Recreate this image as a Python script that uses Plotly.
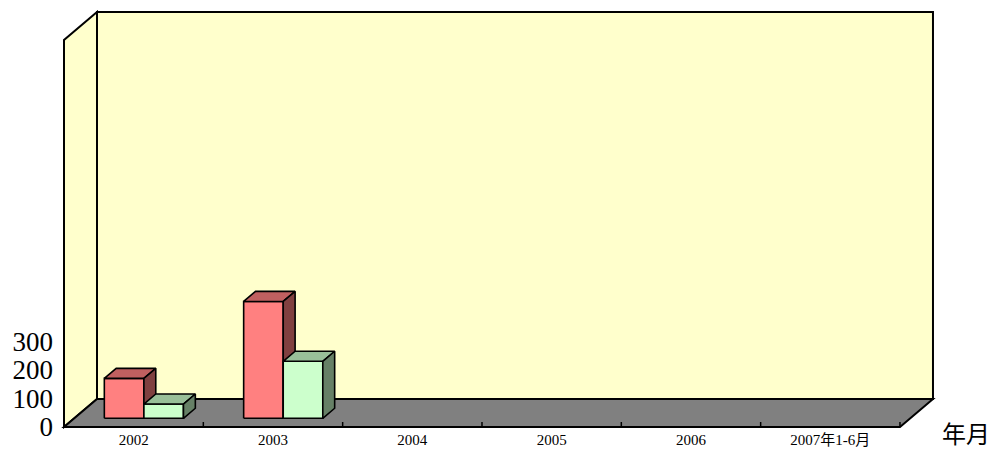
import plotly.graph_objects as go

# ---------------- data ----------------
categories = ["2002", "2003", "2004", "2005", "2006", "2007年1-6月"]
series_a = [140, 410, None, None, None, None]   # red series
series_b = [50, 200, None, None, None, None]    # green series
y_tick_values = [0, 100, 200, 300]
x_title = "年月"

# ---------------- style / geometry ----------------
OFF = 8                  # page body margin in px
FIG_W, FIG_H = 998 - OFF, 450 - OFF
CAT_PX = 139.33          # pixels per category
Y_PX = 0.285             # pixels per value unit
FRONT_LEFT_PX = 64 - OFF       # px of floor front-left corner
FRONT_BASE_PX = 427 - OFF      # px of floor front edge
L, R, T, B = 58 - OFF, 942 - OFF, 2, 429 - OFF   # plot area in px (figure coords)

DX = 33 / CAT_PX         # full depth (x units)
DY = 28 / Y_PX           # full depth (y units)
F0 = 0.31                # bar front plane depth fraction
FD = 0.36                # bar depth fraction
BAR_W = 0.284            # bar width (x units)

RED = ("#FF8080", "#C06060", "#804040")
GREEN = ("#CCFFCC", "#99BF99", "#668066")
WALL = "#FFFFCC"
FLOOR = "#808080"

def px_to_x(px):
    return (px - FRONT_LEFT_PX) / CAT_PX - 0.5

def py_to_y(py):
    return (FRONT_BASE_PX - py) / Y_PX

x_range = [px_to_x(L), px_to_x(R)]
y_range = [py_to_y(B), py_to_y(T)]
n = len(categories)
y_front_top = py_to_y(40 - OFF)

fig = go.Figure()

def poly(xs, ys, color):
    fig.add_trace(go.Scatter(
        x=xs + [xs[0]], y=ys + [ys[0]], mode="lines", fill="toself",
        fillcolor=color, line=dict(color="black", width=1.6),
        hoverinfo="skip", showlegend=False))

def box(x0, x1, base, h, cols):
    ddx, ddy = FD * DX, FD * DY
    top = base + h
    poly([x0, x1, x1, x0], [base, base, top, top], cols[0])
    poly([x0, x1, x1 + ddx, x0 + ddx], [top, top, top + ddy, top + ddy], cols[1])
    poly([x1, x1 + ddx, x1 + ddx, x1], [base, base + ddy, top + ddy, top], cols[2])

base = F0 * DY
for i in range(n):
    xc = i + F0 * DX
    if series_a[i] is not None:
        box(xc - BAR_W, xc, base, series_a[i], RED)
    if series_b[i] is not None:
        box(xc, xc + BAR_W, base, series_b[i], GREEN)

shapes = []
# back wall
shapes.append(dict(type="path", xref="x", yref="y", layer="below",
                   path=f"M {-0.5+DX},{DY} L {n-0.5+DX},{DY} L {n-0.5+DX},{y_front_top+DY} L {-0.5+DX},{y_front_top+DY} Z",
                   fillcolor=WALL, line=dict(color="black", width=2)))
# left wall
shapes.append(dict(type="path", xref="x", yref="y", layer="below",
                   path=f"M -0.5,0 L -0.5,{y_front_top} L {-0.5+DX},{y_front_top+DY} L {-0.5+DX},{DY} Z",
                   fillcolor=WALL, line=dict(color="black", width=2)))
# floor
shapes.append(dict(type="path", xref="x", yref="y", layer="below",
                   path=f"M -0.5,0 L {n-0.5},0 L {n-0.5+DX},{DY} L {-0.5+DX},{DY} Z",
                   fillcolor=FLOOR, line=dict(color="black", width=2)))
# category boundary ticks
for i in range(1, n + 1):
    shapes.append(dict(type="line", xref="x", yref="y", layer="below",
                       x0=i - 0.5, x1=i - 0.5, y0=0, y1=5 / Y_PX,
                       line=dict(color="black", width=1.5)))

fig.update_layout(
    width=FIG_W, height=FIG_H, autosize=False,
    margin=dict(l=L, r=FIG_W - R, t=T, b=FIG_H - B, pad=0),
    paper_bgcolor="white", plot_bgcolor="white",
    showlegend=False, shapes=shapes,
    xaxis=dict(range=x_range, showgrid=False, zeroline=False, showline=False,
               automargin=False,
               tickmode="array", tickvals=list(range(n)), ticktext=categories,
               ticks="", ticklabelstandoff=0,
               tickfont=dict(family="Liberation Serif, Noto Sans CJK SC", size=15, color="black")),
    yaxis=dict(range=y_range, showgrid=False, zeroline=False, showline=False,
               automargin=False,
               tickmode="array", tickvals=y_tick_values, ticks="",
               ticklabelstandoff=4,
               tickfont=dict(family="Liberation Serif", size=27, color="black")),
    annotations=[dict(text=x_title, xref="paper", yref="paper",
                      x=(966 - OFF - L) / (R - L), y=(B - (432 - OFF)) / (B - T),
                      xanchor="center", yanchor="middle", showarrow=False,
                      font=dict(family="Noto Sans CJK SC", size=24, color="black"))],
)

fig.write_html("out.html")
